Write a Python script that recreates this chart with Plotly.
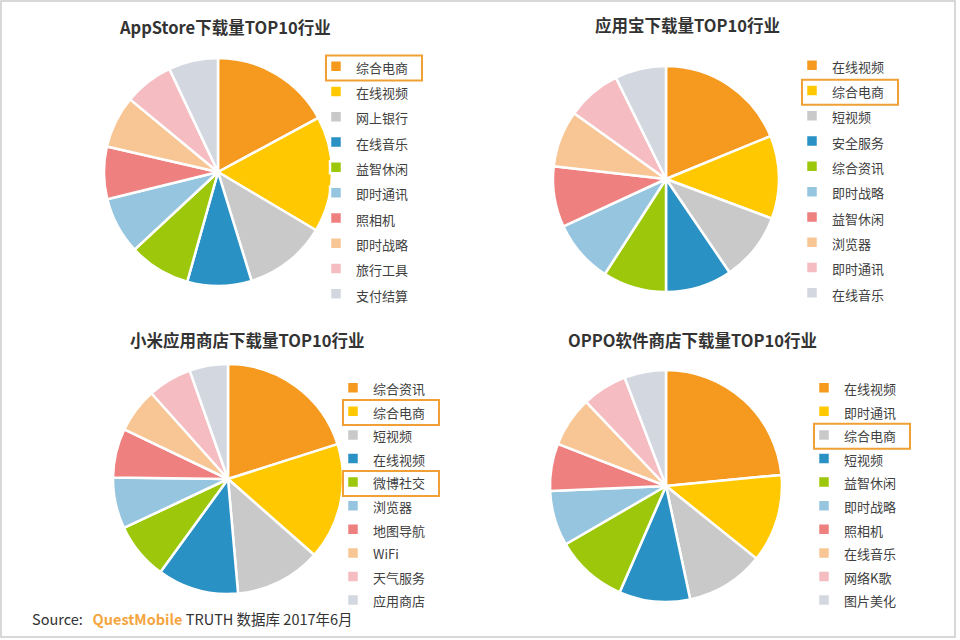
import plotly.graph_objects as go

# slice colours, same order for all four pies
colors = ["#F6991F", "#FFC800", "#C9C9C9", "#2A91C4", "#9DC70A",
          "#96C5DF", "#EF8080", "#F7C694", "#F5BDC1", "#D3D7E0"]

# AppStore
appstore_labels = ["综合电商", "在线视频", "网上银行", "在线音乐", "益智休闲",
                   "即时通讯", "照相机", "即时战略", "旅行工具", "支付结算"]
appstore_values = [17.1, 16.4, 11.7, 9.1, 8.7, 8.1, 7.4, 7.4, 7.0, 7.0]

# 应用宝
yyb_labels = ["在线视频", "综合电商", "短视频", "安全服务", "综合资讯",
              "即时战略", "益智休闲", "浏览器", "即时通讯", "在线音乐"]
yyb_values = [18.8, 11.9, 9.8, 9.5, 9.1, 9.0, 8.7, 8.1, 7.8, 7.3]

# 小米应用商店
mi_labels = ["综合资讯", "综合电商", "短视频", "在线视频", "微博社交",
             "浏览器", "地图导航", "WiFi", "天气服务", "应用商店"]
mi_values = [20.1, 16.4, 12.1, 11.4, 8.0, 7.2, 6.9, 6.3, 6.2, 5.4]

# OPPO软件商店
oppo_labels = ["在线视频", "即时通讯", "综合电商", "短视频", "益智休闲",
               "即时战略", "照相机", "在线音乐", "网络K歌", "图片美化"]
oppo_values = [23.5, 12.3, 10.9, 9.9, 10.1, 7.7, 6.6, 7.0, 6.3, 5.8]

W, H = 960, 640
def px(x):
    return x / W
def py(y):
    return 1 - y / H

FONT = "Noto Sans CJK SC"

charts = [
    # title, labels, values, centre x/y, radius, legend id, legend text x, first item y, item step, highlighted items, title x/y
    ("AppStore下载量TOP10行业", appstore_labels, appstore_values, 218, 172, 114, "legend", 356, 68, 25.3, [0], 225, 27),
    ("应用宝下载量TOP10行业", yyb_labels, yyb_values, 666, 179, 113, "legend2", 832, 67, 25.3, [1], 687, 25),
    ("小米应用商店下载量TOP10行业", mi_labels, mi_values, 228, 479, 115, "legend3", 373, 389, 23.6, [1, 4], 247, 340),
    ("OPPO软件商店下载量TOP10行业", oppo_labels, oppo_values, 666, 486, 116, "legend4", 844, 389, 23.6, [2], 692, 340),
]

fig = go.Figure()
layout_legends = {}
shapes = []
annotations = []

for title, labels, values, cx, cy, r, lg, tx, y0, step, hl, ttx, tty in charts:
    fsize = (step - 3) / 1.3
    fig.add_trace(go.Pie(
        labels=[f'<span style="font-size:13px">{l}</span>' for l in labels],
        values=values,
        sort=False,
        direction="clockwise",
        rotation=0,
        textinfo="none",
        hoverinfo="label+percent",
        marker=dict(colors=colors, line=dict(color="white", width=2.5)),
        domain=dict(x=[px(cx - r), px(cx + r)], y=[py(cy + r), py(cy - r)]),
        legend=lg,
        legendgroup=lg,
    ))
    # text sits a bit low inside the taller legend rows, nudge up
    nudge = (fsize - 13) * 0.45
    layout_legends[lg] = dict(
        x=px(tx - 40), y=py(y0 - step / 2 - 5 - nudge), xanchor="left", yanchor="top",
        bgcolor="rgba(0,0,0,0)", borderwidth=0,
        font=dict(family=FONT, size=fsize, color="#404040"),
        tracegroupgap=0, itemclick=False, itemdoubleclick=False,
    )
    for i in hl:
        yc = y0 + i * step
        shapes.append(dict(type="rect", xref="paper", yref="paper",
                           x0=px(tx - 30), x1=px(tx + 66),
                           y0=py(yc + 12.5), y1=py(yc - 12.5),
                           line=dict(color="#F0A035", width=2)))
    annotations.append(dict(text=f"<b>{title}</b>", x=px(ttx), y=py(tty),
                            xref="paper", yref="paper", showarrow=False,
                            xanchor="center", yanchor="middle",
                            font=dict(family=FONT, size=16.5, color="#333333")))

annotations.append(dict(
    text='Source:   <b><span style="color:#F5A540">QuestMobile</span></b> TRUTH 数据库 2017年6月',
    x=px(30), y=py(618), xref="paper", yref="paper", showarrow=False,
    xanchor="left", yanchor="middle",
    font=dict(family=FONT, size=14.5, color="#333333")))

# outer frame
shapes.append(dict(type="rect", xref="paper", yref="paper",
                   x0=px(1), x1=px(955), y0=py(637), y1=py(1),
                   line=dict(color="#CCCCCC", width=1.5)))

fig.update_layout(
    width=W, height=H,
    margin=dict(l=0, r=0, t=0, b=0),
    paper_bgcolor="white",
    plot_bgcolor="white",
    showlegend=True,
    shapes=shapes,
    annotations=annotations,
    **layout_legends,
)

fig.write_html("out.html", config={"displayModeBar": False},
               post_script="document.body.style.margin='0';")
